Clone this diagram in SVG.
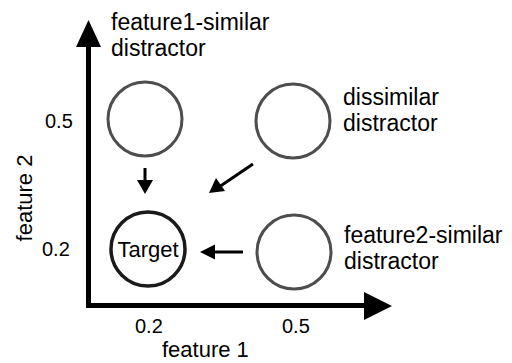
<svg xmlns="http://www.w3.org/2000/svg" width="512" height="363" viewBox="0 0 512 363">
<style>
text{font-family:"Liberation Sans",Arial,sans-serif;fill:#000}
.lbl{font-size:23px}
.ax{font-size:22px}
.tk{font-size:20px}
.dist{fill:none;stroke:#4d4d4d;stroke-width:3}
.tgt{fill:none;stroke:#1a1a1a;stroke-width:3.5}
.conn{stroke:#000;stroke-width:3;fill:none}
</style>
<rect width="512" height="363" fill="#fff"/>
<g id="axes">
<line x1="88.5" y1="40" x2="88.5" y2="308" stroke="#000" stroke-width="5"/>
<polygon points="76,47 101,47 88.5,20" fill="#000"/>
<line x1="86" y1="305.5" x2="370" y2="305.5" stroke="#000" stroke-width="5"/>
<polygon points="364,292 364,320 392,306" fill="#000"/>
<text class="tk" x="45" y="128">0.5</text>
<text class="tk" x="42" y="256">0.2</text>
<text class="tk" x="135" y="333">0.2</text>
<text class="tk" x="282" y="333">0.5</text>
<text class="ax" x="162" y="357">feature 1</text>
<text class="ax" transform="translate(32,198) rotate(-90)" text-anchor="middle">feature 2</text>
</g>
<g id="f1-similar">
<circle class="dist" cx="145" cy="119" r="37"/>
<text class="lbl" x="111" y="30">feature1-similar</text>
<text class="lbl" x="111" y="56">distractor</text>
</g>
<g id="dissimilar">
<circle class="dist" cx="293" cy="121" r="37"/>
<text class="lbl" x="343" y="105">dissimilar</text>
<text class="lbl" x="343" y="131">distractor</text>
</g>
<g id="f2-similar">
<circle class="dist" cx="294" cy="252" r="37"/>
<text class="lbl" x="344" y="243">feature2-similar</text>
<text class="lbl" x="344" y="269">distractor</text>
</g>
<g id="target">
<circle class="tgt" cx="148" cy="249" r="37"/>
<text x="148" y="257" text-anchor="middle" style="font-size:22px">Target</text>
</g>
<g id="connectors">
<line class="conn" x1="145" y1="168" x2="145" y2="182"/>
<polygon points="137,180 153,180 145,194" fill="#000"/>
<line class="conn" x1="253" y1="164" x2="219" y2="187"/>
<polygon points="209,193 216,178 225,191" fill="#000"/>
<line class="conn" x1="243" y1="252" x2="212" y2="252"/>
<polygon points="200,252 215,244.5 215,259.5" fill="#000"/>
</g>
</svg>
